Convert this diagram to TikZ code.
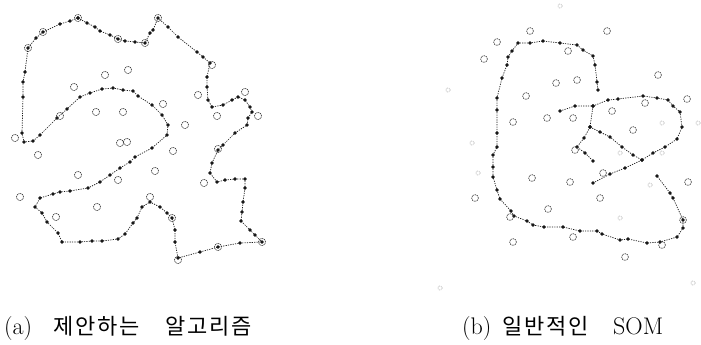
\documentclass[tikz,border=0pt]{standalone}
\usepackage{fontspec}
\newfontfamily\kr[LetterSpace=8]{Noto Sans CJK KR}
\usetikzlibrary{plotmarks}
\tikzset{
  tour/.style={line width=0.7pt, dash pattern=on 1.2pt off 1.2pt, black!90},
  dots/.style={mark=*, mark size=1.35pt, mark options={solid, fill=black}},
  city/.style={draw=black!80, line width=0.6pt, dash pattern=on 1.3pt off 0.7pt, fill=none},
  faint/.style={draw=black!45, line width=0.45pt, dash pattern=on 0.8pt off 1pt},
  captext/.style={anchor=base west, inner sep=0pt, font=\fontsize{22}{26}\selectfont},
  latcap/.style={anchor=base west, inner sep=0pt, font=\fontsize{24}{28}\selectfont}
}
\begin{document}
\begin{tikzpicture}[x=1pt,y=-1pt]
\useasboundingbox (0,0) rectangle (701,345);
\fill[white] (0,0) rectangle (701,345);

% ---------- (a) proposed algorithm: closed tour ----------
\draw[tour] plot[dots] coordinates {
(78,18) (87,23) (95,27) (100,31) (110,35) (118,39) (125,41) (135,42) (145,43)
(150,33) (153,30) (158,18) (168,27) (178,37) (197,52) (203,57) (210,63)
(207,77) (207,87) (208,100) (212,107) (223,105) (232,100) (238,97) (245,100)
(250,107) (252,112) (248,118) (247,125) (235,133) (223,145) (218,150) (212,163)
(210,173) (217,182) (225,180) (235,179) (245,179) (245,188) (243,202) (242,212)
(241,221) (250,230) (255,235) (262,242) (240,243) (218,247) (200,252) (178,258)
(175,242) (175,230) (172,218) (167,213) (160,207) (150,202) (142,207) (137,218)
(133,223) (125,234) (118,239) (102,241) (92,241) (80,242) (62,242) (58,233)
(47,222) (42,213) (35,207) (40,198) (53,194) (60,192) (70,191) (88,188)
(100,182) (110,175) (120,168) (130,162) (135,157) (152,148) (167,135) (168,125)
(162,115) (152,105) (138,96) (133,91) (123,90) (113,88) (102,89) (90,93)
(80,97) (67,109) (57,118) (40,135) (33,141) (24,142) (22,133) (23,97)
(23,82) (25,72) (28,48) (36,38) (43,32) (60,24) (70,21) (78,18)};

\foreach \p in {(78,18),(43,32),(118,39),(145,43),(158,18),(212,65),(105,75),
(128,70),(74,87),(198,95),(245,92),(163,104),(96,112),(123,112),(60,116),
(217,116),(258,116),(185,125),(15,138),(120,143),(127,142),(173,151),(38,155),
(218,149),(155,171),(78,175),(118,180),(204,183),(20,197),(150,197),(97,207),
(56,217),(172,218),(262,242),(218,247),(178,260),(28,48)}
  \draw[city] \p circle (3.6pt);

% ---------- (b) ordinary SOM ----------
\draw[tour] plot[dots] coordinates {
(598,90) (597,82) (595,65) (593,56) (583,50) (577,45) (560,43) (543,41)
(530,43) (518,43) (512,51) (508,57) (507,65) (502,78) (497,98) (497,110)
(497,133) (497,147) (493,155) (493,167) (493,177) (497,190) (500,199)
(511,211) (514,216) (527,221) (533,225) (544,227) (563,227) (580,231)
(597,231) (602,234) (620,240) (628,239) (647,243) (660,242) (677,237)
(683,228) (683,220) (673,198) (670,193) (657,176)};

\draw[tour] plot[dots] coordinates {
(560,111) (575,106) (593,106) (608,100) (618,99) (643,96) (657,98) (668,100)
(673,106) (680,112) (682,127) (677,139) (665,147) (653,153) (642,160)
(625,168) (610,174) (593,183)};

\draw[tour] plot[dots] coordinates {
(593,106) (590,127) (584,138) (577,147) (585,153) (593,161)};

\draw[tour] plot[dots] coordinates {
(590,127) (600,132) (610,137) (622,147) (633,155) (642,160)};

\foreach \p in {(530,31),(497,42),(484,59),(556,83),(526,96),(513,122),(547,118),
(607,31),(568,51),(577,80),(658,75),(687,99),(645,103),(612,111),(573,118),
(633,130),(575,150),(603,173),(688,182),(570,182),(532,178),(475,198),
(548,209),(510,217),(513,242),(573,237),(625,257),(662,245),(683,220),(600,198)}
  \draw[city] \p circle (3.4pt);

\foreach \p in {(560,6),(448,90),(472,143),(662,123),(698,123),(620,153),
(662,153),(650,185),(620,218),(478,173),(440,288),(693,283)}
  \draw[faint] \p circle (2.2pt);

% ---------- captions ----------
\node[latcap] (ca1) at (4,334) {(a)};
\node[captext] (ca2) at (53,334) {\kr 제안하는};
\node[captext] (ca3) at (165,334) {\kr 알고리즘};
\node[latcap] (cb1) at (462,334) {(b)};
\node[captext] (cb2) at (502,334) {\kr 일반적인};
\node[latcap] (cb3) at (613,334) {SOM};
\end{tikzpicture}
\end{document}
